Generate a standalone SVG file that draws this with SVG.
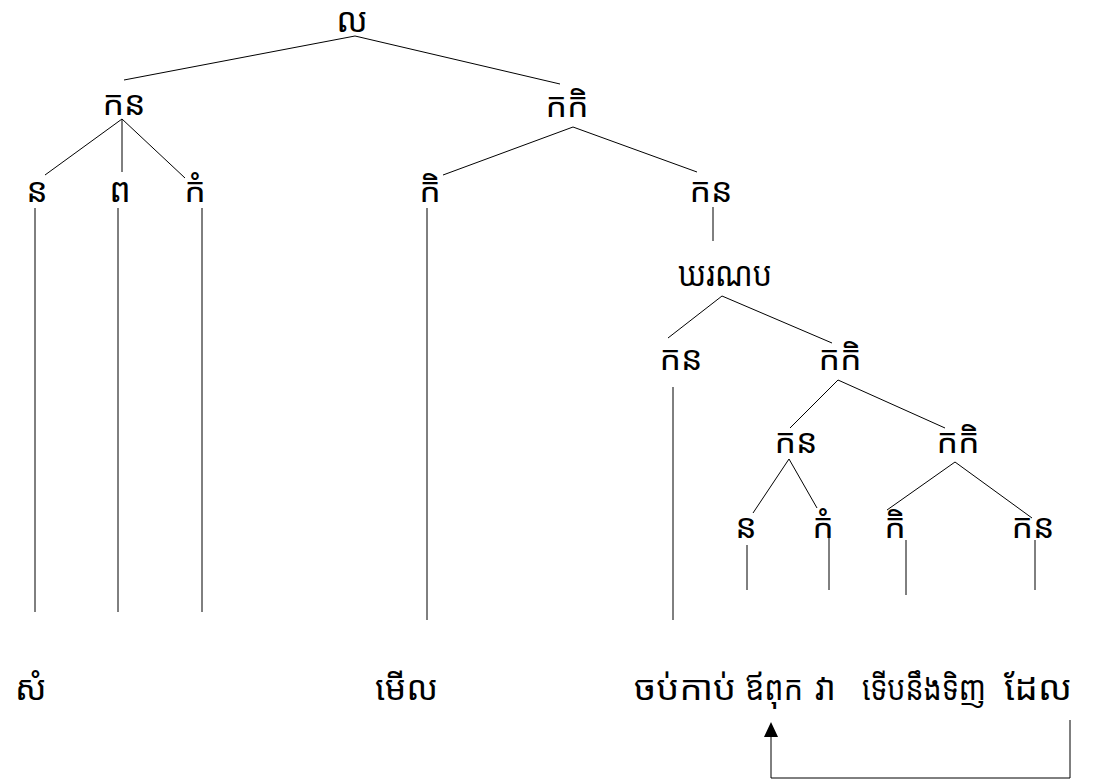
<svg xmlns="http://www.w3.org/2000/svg" width="1109" height="782" viewBox="0 0 1109 782">
<style>
.t{font-family:"Noto Sans Khmer","Khmer OS","Noto Sans","DejaVu Sans",sans-serif;font-size:34px;fill:#000;text-anchor:middle}
.w{text-anchor:start}
.e{stroke:#000;stroke-width:1;fill:none}
</style>
<rect width="1109" height="782" fill="#fff"/>
<g id="connectors" class="e">
<line x1="355" y1="36" x2="124" y2="80"/>
<line x1="355" y1="36" x2="560" y2="84"/>
<line x1="122" y1="119" x2="45" y2="175"/>
<line x1="122" y1="119" x2="122" y2="172"/>
<line x1="122" y1="119" x2="185" y2="178"/>
<line x1="573" y1="127" x2="443" y2="175"/>
<line x1="573" y1="127" x2="697" y2="172"/>
<line x1="35" y1="208" x2="35" y2="612"/>
<line x1="118" y1="208" x2="118" y2="612"/>
<line x1="202" y1="208" x2="202" y2="612"/>
<line x1="427" y1="208" x2="427" y2="620"/>
<line x1="713" y1="207" x2="713" y2="241"/>
<line x1="722" y1="296" x2="668" y2="338"/>
<line x1="722" y1="296" x2="832" y2="343"/>
<line x1="673" y1="387" x2="673" y2="620"/>
<line x1="838" y1="380" x2="790" y2="428"/>
<line x1="838" y1="380" x2="945" y2="428"/>
<line x1="789" y1="459" x2="753" y2="513"/>
<line x1="789" y1="459" x2="817" y2="508"/>
<line x1="955" y1="462" x2="887" y2="510"/>
<line x1="955" y1="462" x2="1032" y2="518"/>
<line x1="747" y1="545" x2="747" y2="590"/>
<line x1="829" y1="538" x2="829" y2="590"/>
<line x1="906" y1="540" x2="906" y2="595"/>
<line x1="1035" y1="540" x2="1035" y2="590"/>
<polyline points="1070,720 1070,778 771,778 771,736"/>
<polygon points="771,722 764,737 778,737" fill="#000" stroke="none"/>
</g>
<g id="n-root"><text class="t" x="352" y="32">ល</text></g>
<g id="n-kn1"><text class="t" x="124" y="115">កន</text></g>
<g id="n-kki1"><text class="t" x="567" y="117">កកិ</text></g>
<g id="n-n1"><text class="t" x="37" y="202">ន</text></g>
<g id="n-p"><text class="t" x="120" y="202">ព</text></g>
<g id="n-km1"><text class="t" x="195" y="202">កំ</text></g>
<g id="n-ki1"><text class="t" x="430" y="202">កិ</text></g>
<g id="n-kn2"><text class="t" x="711" y="202">កន</text></g>
<g id="n-yrnb"><text class="t" x="725" y="286" textLength="94" lengthAdjust="spacingAndGlyphs">ឃរណប</text></g>
<g id="n-kn3"><text class="t" x="681" y="370">កន</text></g>
<g id="n-kki2"><text class="t" x="840" y="370">កកិ</text></g>
<g id="n-kn4"><text class="t" x="796" y="453">កន</text></g>
<g id="n-kki3"><text class="t" x="958" y="453">កកិ</text></g>
<g id="n-n2"><text class="t" x="746" y="538">ន</text></g>
<g id="n-km2"><text class="t" x="823" y="538">កំ</text></g>
<g id="n-ki2"><text class="t" x="895" y="538">កិ</text></g>
<g id="n-kn5"><text class="t" x="1033" y="538">កន</text></g>
<g id="words">
<text class="t w" x="15" y="700">សំ</text>
<text class="t w" x="375" y="700">មើល</text>
<text class="t w" x="634" y="700" textLength="102" lengthAdjust="spacingAndGlyphs">ចប់កាប់</text>
<text class="t w" x="745" y="700" textLength="58" lengthAdjust="spacingAndGlyphs">ឪពុក</text>
<text class="t w" x="815" y="700">វា</text>
<text class="t w" x="862" y="700" textLength="124" lengthAdjust="spacingAndGlyphs">ទើបនឹងទិញ</text>
<text class="t w" x="1004" y="700" textLength="68" lengthAdjust="spacingAndGlyphs">ដែល</text>
</g>
</svg>
